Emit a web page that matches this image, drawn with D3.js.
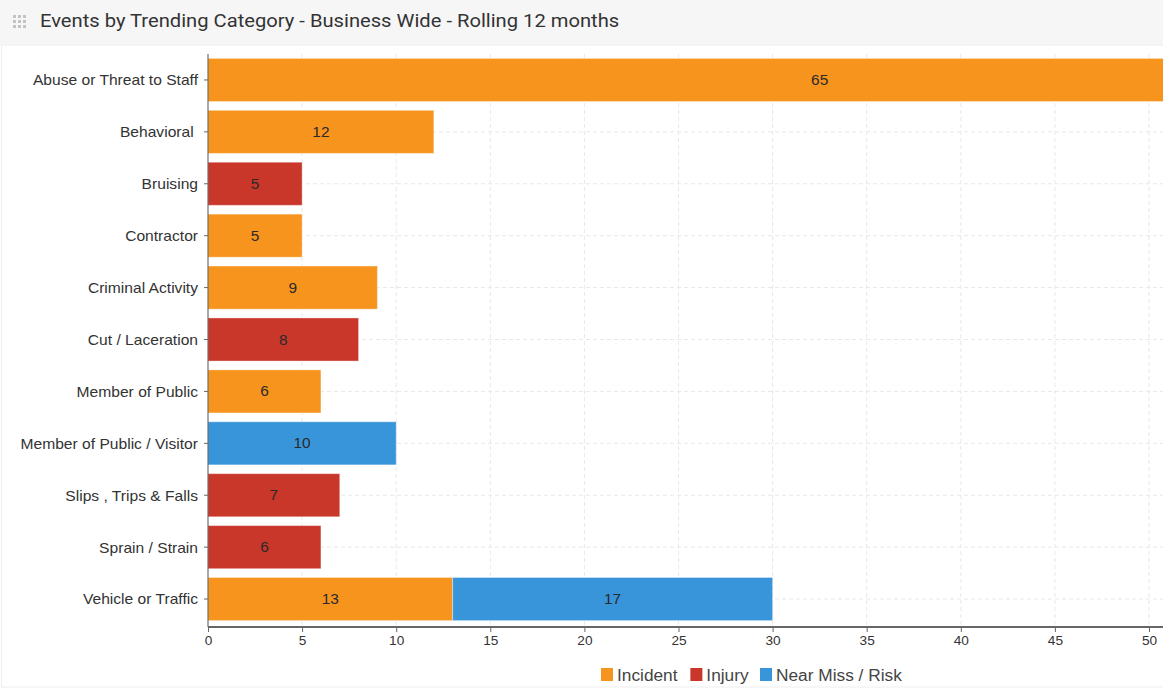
<!DOCTYPE html>
<html><head><meta charset="utf-8">
<script src="https://cdn.jsdelivr.net/npm/d3@7"></script>
<style>
body{margin:0;background:#fff;overflow:hidden}
svg{display:block}
text{font-family:"Liberation Sans",Arial,sans-serif}
</style></head>
<body><svg id="c" width="1163" height="688"></svg>
<script>
const title = "Events by Trending Category - Business Wide - Rolling 12 months";
const categories = ["Abuse or Threat to Staff","Behavioral ","Bruising","Contractor","Criminal Activity","Cut / Laceration","Member of Public","Member of Public / Visitor","Slips , Trips & Falls","Sprain / Strain","Vehicle or Traffic"];
const seriesNames = ["Incident","Injury","Near Miss / Risk"];
const incident = [65,12,0,5,9,0,6,0,0,0,13];
const injury   = [0,0,5,0,0,8,0,0,7,6,0];
const nearMiss = [0,0,0,0,0,0,0,10,0,0,17];
const xTicks = [0,5,10,15,20,25,30,35,40,45,50];
const colors = ["#f7941d","#c8372a","#3895d9"];

function stretch(sel,k){
  sel.each(function(){
    const w=this.getComputedTextLength();
    if(w>0){ this.setAttribute("textLength",w*k); this.setAttribute("lengthAdjust","spacingAndGlyphs"); }
  });
}

const svg = d3.select("#c");
// header
svg.append("rect").attr("x",0).attr("y",0).attr("width",1163).attr("height",45).attr("fill","#f6f6f6");
svg.append("rect").attr("x",1.5).attr("y",45).attr("width",1163).attr("height",642).attr("fill","#fff").attr("stroke","#eeeeee");
// grip icon
for(let i=0;i<3;i++)for(let j=0;j<3;j++)
  svg.append("rect").attr("x",13+i*5).attr("y",15+j*5).attr("width",3).attr("height",3).attr("fill","#c4c4c4");
const tt = svg.append("text").attr("x",40).attr("y",26.5).attr("font-size",18.5).attr("fill","#333")
  .style("font-family","Roboto, sans-serif").text(title);
stretch(tt,1.09);

const pLeft=208, pTop=54, pBottom=625;
const x = d3.scaleLinear().domain([0,50]).range([pLeft,1149]);
const y = d3.scaleBand().domain(categories).range([pTop,pBottom]).paddingInner(0.17).paddingOuter(0.085);

const g = svg.append("g");
// grid
g.selectAll(".vg").data(xTicks.slice(1)).join("line")
  .attr("x1",d=>x(d)).attr("x2",d=>x(d)).attr("y1",pTop).attr("y2",627)
  .attr("stroke","#e8e8e8").attr("stroke-dasharray","4,3");
g.selectAll(".hg").data(categories).join("line")
  .attr("x1",pLeft).attr("x2",1163).attr("y1",d=>y(d)+y.bandwidth()/2).attr("y2",d=>y(d)+y.bandwidth()/2)
  .attr("stroke","#e8e8e8").attr("stroke-dasharray","4,3");

const data = categories.map((c,i)=>({cat:c,"Incident":incident[i],"Injury":injury[i],"Near Miss / Risk":nearMiss[i]}));
const stack = d3.stack().keys(seriesNames)(data);
stack.forEach((s,si)=>{
  s.forEach(d=>{
    const v = d[1]-d[0];
    if(v<=0) return;
    const x0=x(d[0]), x1=x(d[1]);
    g.append("rect").attr("x",x0).attr("y",y(d.data.cat)).attr("width",x1-x0).attr("height",y.bandwidth())
      .attr("fill",colors[si]).attr("stroke","rgba(255,255,255,0.35)").attr("stroke-width",1);
    const t = g.append("text").attr("x",(x0+x1)/2).attr("y",y(d.data.cat)+y.bandwidth()/2+5)
      .attr("text-anchor","middle").attr("font-size",14).attr("fill","#2a2a2a").text(v);
    stretch(t,1.1);
  });
});

// y axis
const ya = svg.append("g").attr("transform",`translate(${pLeft},0)`).call(d3.axisLeft(y).tickSize(4).tickPadding(6));
ya.select(".domain").attr("stroke","#555").attr("d",`M0,${pTop}V627`);
ya.selectAll(".tick line").attr("stroke","#666");
ya.selectAll("text").attr("font-size",14.2).attr("fill","#333").attr("dy","0.38em").style("white-space","pre").style("font-family","'Liberation Sans',Arial,sans-serif");
stretch(ya.selectAll("text"),1.1);

// x axis
const xa = svg.append("g").attr("transform",`translate(0,627)`).call(d3.axisBottom(x).tickValues(xTicks).tickSize(5).tickPadding(4));
xa.select(".domain").attr("stroke","#666").attr("stroke-width",2).attr("d",`M${pLeft},0H1163`);
xa.selectAll(".tick line").attr("stroke","#666");
xa.selectAll("text").attr("font-size",13).attr("fill","#333").style("font-family","'Liberation Sans',Arial,sans-serif");
stretch(xa.selectAll("text"),1.05);

// legend
const lg = svg.append("g").attr("transform","translate(601,668)");
let lx=0;
seriesNames.forEach((n,i)=>{
  lg.append("rect").attr("x",lx).attr("y",0).attr("width",12).attr("height",13).attr("fill",colors[i]);
  const t=lg.append("text").attr("x",lx+16).attr("y",13).attr("font-size",16).attr("fill","#444").text(n);
  stretch(t,1.08);
  lx += 16 + t.node().getComputedTextLength()*1.08 + 8;
});
</script></body></html>
